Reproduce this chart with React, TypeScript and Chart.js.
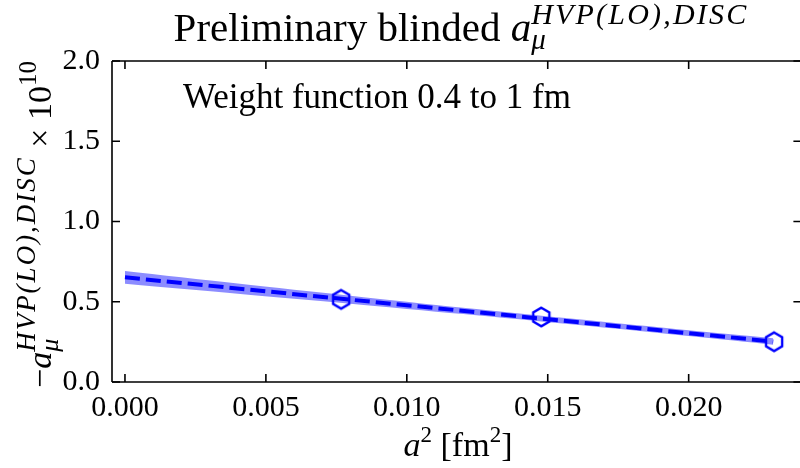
import React, { useEffect, useRef } from "react";
import { Chart, registerables } from "chart.js";

Chart.register(...registerables);

// ---- data ----
const pointX = [0.00767, 0.01477, 0.02303];
const pointY = [0.515, 0.405, 0.251];

const fitX = [0, 0.023];
const fitY = [0.652, 0.252];

const bandX = [0, 0.004, 0.008, 0.012, 0.016, 0.02, 0.023];
const bandUpper = [0.692, 0.614, 0.538, 0.463, 0.392, 0.322, 0.272];
const bandLower = [0.612, 0.55, 0.488, 0.423, 0.356, 0.286, 0.232];

const xTickValues = [0, 0.005, 0.01, 0.015, 0.02];
const yTickValues = [0, 0.5, 1.0, 1.5, 2.0];

const titleText = "Preliminary blinded ";
const annotationText = "Weight function 0.4 to 1 fm";

const SERIF = "'Liberation Serif', 'Times New Roman', serif";
const BLUE = "#0000ff";

type Seg = { t: string; size: number; italic?: boolean; dy?: number; stack?: boolean; ls?: number };

function segFont(s: Seg) {
  return `${s.italic ? "italic " : ""}${s.size}px ${SERIF}`;
}

function segWidth(ctx: CanvasRenderingContext2D, s: Seg) {
  ctx.font = segFont(s);
  return ctx.measureText(s.t).width + (s.ls || 0) * s.t.length;
}

function measureRich(ctx: CanvasRenderingContext2D, segs: Seg[]) {
  let x = 0;
  let lastStart = 0;
  let maxX = 0;
  const pos: number[] = [];
  for (const s of segs) {
    if (s.stack) x = lastStart;
    const w = segWidth(ctx, s);
    pos.push(x);
    lastStart = x;
    x += w;
    maxX = Math.max(maxX, x);
  }
  return { pos, width: maxX };
}

function drawRich(ctx: CanvasRenderingContext2D, segs: Seg[], x: number, y: number, align: "left" | "center") {
  const { pos, width } = measureRich(ctx, segs);
  const x0 = align === "center" ? x - width / 2 : x;
  ctx.save();
  ctx.fillStyle = "#000";
  ctx.textBaseline = "alphabetic";
  ctx.textAlign = "left";
  segs.forEach((s, i) => {
    ctx.font = segFont(s);
    if (s.ls) {
      let cx = x0 + pos[i];
      for (const ch of s.t) {
        ctx.fillText(ch, cx, y + (s.dy || 0));
        cx += ctx.measureText(ch).width + s.ls;
      }
    } else {
      ctx.fillText(s.t, x0 + pos[i], y + (s.dy || 0));
    }
  });
  ctx.restore();
}

function makeHexagon(): HTMLCanvasElement {
  const c = document.createElement("canvas");
  c.width = 22;
  c.height = 24;
  const g = c.getContext("2d")!;
  const cx = 11, cy = 12, r = 9.3;
  g.beginPath();
  for (let k = 0; k < 6; k++) {
    const a = -Math.PI / 2 + (k * Math.PI) / 3;
    const px = cx + r * Math.cos(a);
    const py = cy + r * Math.sin(a);
    if (k === 0) g.moveTo(px, py);
    else g.lineTo(px, py);
  }
  g.closePath();
  g.lineWidth = 2.4;
  g.strokeStyle = BLUE;
  g.stroke();
  return c;
}

const decorPlugin = {
  id: "decor",
  afterDraw(chart: any) {
    const ctx: CanvasRenderingContext2D = chart.ctx;
    const { left, right, top, bottom } = chart.chartArea;
    const xs = chart.scales.x;
    const ys = chart.scales.y;
    const rightEdge = xs.getPixelForValue(0.024);
    ctx.save();
    ctx.strokeStyle = "#000";
    ctx.lineWidth = 1.6;
    // spines (right spine lies just outside the picture)
    ctx.beginPath();
    ctx.moveTo(left, top);
    ctx.lineTo(right + 4, top);
    ctx.moveTo(left, top);
    ctx.lineTo(left, bottom);
    ctx.moveTo(left, bottom);
    ctx.lineTo(right + 4, bottom);
    ctx.stroke();
    // inward ticks
    const L = 8;
    ctx.beginPath();
    for (const v of xTickValues) {
      const p = xs.getPixelForValue(v);
      ctx.moveTo(p, bottom);
      ctx.lineTo(p, bottom - L);
      ctx.moveTo(p, top);
      ctx.lineTo(p, top + L);
    }
    for (const v of yTickValues) {
      const p = ys.getPixelForValue(v);
      ctx.moveTo(left, p);
      ctx.lineTo(left + L, p);
      ctx.moveTo(rightEdge, p);
      ctx.lineTo(rightEdge - L, p);
    }
    ctx.stroke();
    ctx.restore();

    // title
    drawRich(
      ctx,
      [
        { t: titleText, size: 41 },
        { t: "a", size: 41, italic: true },
        { t: "μ", size: 29, italic: true, dy: 8 },
        { t: "HVP(LO),DISC", size: 30, italic: true, dy: -17, stack: true, ls: 2.2 },
      ],
      461,
      41,
      "center"
    );

    // annotation
    drawRich(ctx, [{ t: annotationText, size: 35 }], 183, 108, "left");

    // x label
    drawRich(
      ctx,
      [
        { t: "a", size: 34, italic: true },
        { t: "2", size: 23, dy: -14 },
        { t: " [fm", size: 34 },
        { t: "2", size: 23, dy: -14 },
        { t: "]", size: 34 },
      ],
      458,
      456,
      "center"
    );

    // y label (rotated)
    ctx.save();
    ctx.translate(51, (top + bottom) / 2 + 3);
    ctx.rotate(-Math.PI / 2);
    drawRich(
      ctx,
      [
        { t: "−", size: 34 },
        { t: "a", size: 34, italic: true },
        { t: "μ", size: 26, italic: true, dy: 7 },
        { t: "HVP(LO),DISC", size: 27, italic: true, dy: -16, stack: true, ls: 2 },
        { t: " × 10", size: 34 },
        { t: "10", size: 25, dy: -15 },
      ],
      0,
      0,
      "center"
    );
    ctx.restore();
  },
};

export default function App() {
  const ref = useRef<HTMLCanvasElement | null>(null);

  useEffect(() => {
    if (!ref.current) return;
    const hex = makeHexagon();
    const chart = new Chart(ref.current, {
      type: "line",
      data: {
        datasets: [
          {
            label: "data",
            data: pointX.map((x, i) => ({ x, y: pointY[i] })),
            showLine: false,
            pointStyle: hex as any,
            pointRadius: 9,
            borderColor: BLUE,
            backgroundColor: "rgba(0,0,0,0)",
          },
          {
            label: "fit",
            data: fitX.map((x, i) => ({ x, y: fitY[i] })),
            borderColor: BLUE,
            borderWidth: 4,
            borderDash: [15, 6],
            pointRadius: 0,
            fill: false,
          },
          {
            label: "band upper",
            data: bandX.map((x, i) => ({ x, y: bandUpper[i] })),
            borderWidth: 0,
            borderColor: "rgba(0,0,0,0)",
            pointRadius: 0,
            fill: false,
            tension: 0.3,
          },
          {
            label: "band lower",
            data: bandX.map((x, i) => ({ x, y: bandLower[i] })),
            borderWidth: 0,
            borderColor: "rgba(0,0,0,0)",
            backgroundColor: "rgba(0,0,255,0.45)",
            pointRadius: 0,
            fill: "-1",
            tension: 0.3,
          },
        ],
      },
      options: {
        animation: false,
        responsive: false,
        events: [],
        layout: { autoPadding: false, padding: { top: 61, right: 0, left: 0, bottom: 0 } },
        plugins: {
          legend: { display: false },
          title: { display: false },
          tooltip: { enabled: false },
        },
        scales: {
          x: {
            type: "linear",
            min: -0.00046,
            max: 0.02395,
            grid: { display: false, drawTicks: false },
            border: { display: false },
            afterFit(scale: any) {
              scale.height = 86;
              scale.paddingLeft = 0;
              scale.paddingRight = 0;
            },
            afterBuildTicks(scale: any) {
              scale.ticks = xTickValues.map((v) => ({ value: v }));
            },
            ticks: {
              color: "#000",
              font: { family: SERIF, size: 30 },
              padding: 8,
              maxRotation: 0,
              autoSkip: false,
              callback: (v: any) => Number(v).toFixed(3),
            },
          },
          y: {
            type: "linear",
            min: 0,
            max: 2,
            grid: { display: false, drawTicks: false },
            border: { display: false },
            afterFit(scale: any) {
              scale.width = 112;
            },
            afterBuildTicks(scale: any) {
              scale.ticks = yTickValues.map((v) => ({ value: v }));
            },
            ticks: {
              color: "#000",
              font: { family: SERIF, size: 30 },
              padding: 12,
              autoSkip: false,
              callback: (v: any) => Number(v).toFixed(1),
            },
          },
        },
      },
      plugins: [decorPlugin],
    });
    return () => chart.destroy();
  }, []);

  return (
    <div style={{ position: "fixed", left: 0, top: 0, width: 800, height: 468, background: "#fff", overflow: "hidden" }}>
      <canvas ref={ref} width={800} height={468} />
    </div>
  );
}
